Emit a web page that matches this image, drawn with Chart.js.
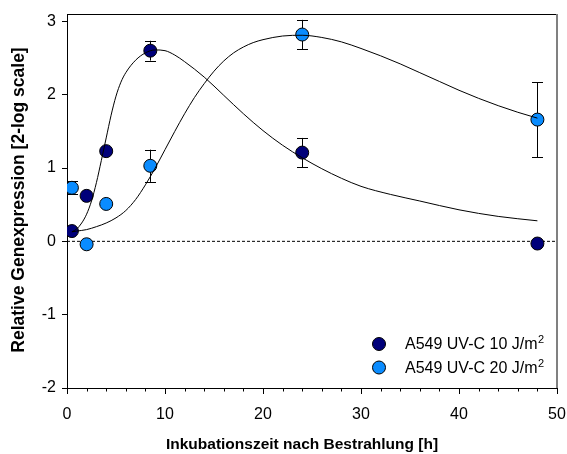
<!DOCTYPE html>
<html>
<head>
<meta charset="utf-8">
<script src="https://cdn.jsdelivr.net/npm/chart.js@4/dist/chart.umd.min.js"></script>
<style>
  html, body { margin: 0; padding: 0; background: #fff; }
  #wrap { width: 567px; height: 454px; position: relative; }
</style>
</head>
<body>
<div id="wrap"><canvas id="grafico"></canvas></div>
<script>
// Messpunkte (Inkubationszeit in h)
const zeitH = [0.5, 2, 4, 8.5, 24, 48];
const uv10 = [0.14, 0.62, 1.23, 2.6, 1.21, -0.03];
const uv10Err = [0, 0, 0, 0.135, 0.2, 0];
const uv20 = [0.73, -0.04, 0.51, 1.03, 2.82, 1.66];
const uv20Err = [0.09, 0, 0, 0.22, 0.2, 0.51];

// Ausgleichskurven
const fit10X = [0.5, 1, 1.5, 2, 2.5, 3, 3.5, 4, 4.5, 5, 5.5, 6, 7, 8, 9, 10, 11, 12, 14, 16, 18, 20, 22, 24, 26, 28, 30, 33, 36, 40, 44, 48];
const fit10Y = [0.13, 0.17, 0.25, 0.37, 0.55, 0.8, 1.1, 1.41, 1.72, 1.98, 2.17, 2.3, 2.47, 2.57, 2.61, 2.6, 2.54, 2.45, 2.24, 1.99, 1.74, 1.51, 1.31, 1.14, 0.99, 0.86, 0.75, 0.64, 0.55, 0.43, 0.34, 0.28];
const fit20X = [0.5, 1, 2, 3, 4, 5, 6, 7, 8, 9, 10, 11, 12, 13, 14, 15, 16, 17, 18, 19, 20, 22, 24, 26, 28, 30, 32, 34, 36, 38, 40, 42, 44, 46, 48];
const fit20Y = [0.13, 0.14, 0.16, 0.2, 0.25, 0.32, 0.42, 0.57, 0.77, 1.0, 1.25, 1.5, 1.74, 1.96, 2.15, 2.32, 2.46, 2.57, 2.65, 2.71, 2.75, 2.8, 2.81, 2.78, 2.72, 2.63, 2.53, 2.42, 2.3, 2.18, 2.06, 1.95, 1.85, 1.76, 1.68];

const xTicks = [0, 10, 20, 30, 40, 50];
const yTicks = [-2, -1, 0, 1, 2, 3];

const serien = ['A549 UV-C 10 J/m', 'A549 UV-C 20 J/m'];
const hochzahl = '2';
const farben = ['#00007a', '#0a8cff'];

const FONT = "'Liberation Sans', Arial, sans-serif";
Chart.defaults.font.family = FONT;
Chart.defaults.color = '#000';

const punkte = (xs, ys) => xs.map((x, i) => ({ x: x, y: ys[i] }));

// 🔹 Fehlerbalken, Rahmen, Nebenstriche, Legende, Achsentitel
const extras = {
    id: 'extras',
    beforeDatasetsDraw(chart) {
        const { ctx, scales: { x, y } } = chart;
        ctx.save();
        ctx.strokeStyle = '#000';
        ctx.lineWidth = 1;
        [[uv10, uv10Err], [uv20, uv20Err]].forEach(([werte, fehler]) => {
            zeitH.forEach((t, i) => {
                if (!fehler[i]) return;
                const px = Math.round(x.getPixelForValue(t)) + 0.5;
                const y1 = y.getPixelForValue(werte[i] + fehler[i]);
                const y2 = y.getPixelForValue(werte[i] - fehler[i]);
                ctx.beginPath();
                ctx.moveTo(px, y1); ctx.lineTo(px, y2);
                ctx.moveTo(px - 5.5, Math.round(y1) + 0.5); ctx.lineTo(px + 5.5, Math.round(y1) + 0.5);
                ctx.moveTo(px - 5.5, Math.round(y2) + 0.5); ctx.lineTo(px + 5.5, Math.round(y2) + 0.5);
                ctx.stroke();
            });
        });
        ctx.restore();
    },
    afterDraw(chart) {
        const { ctx, chartArea: a, scales: { x } } = chart;
        ctx.save();
        // Rahmen oben / rechts
        ctx.strokeStyle = '#000';
        ctx.lineWidth = 1;
        ctx.beginPath();
        ctx.moveTo(a.left, a.top + 0.5); ctx.lineTo(a.right, a.top + 0.5);
        ctx.stroke();
        ctx.strokeStyle = '#808080';
        ctx.lineWidth = 2;
        ctx.beginPath();
        ctx.moveTo(a.right, a.top); ctx.lineTo(a.right, a.bottom);
        ctx.stroke();

        // Nebenstriche x-Achse
        ctx.strokeStyle = '#000';
        ctx.lineWidth = 1;
        ctx.beginPath();
        for (let v = 2; v < 50; v += 2) {
            if (v % 10 === 0) continue;
            const px = Math.round(x.getPixelForValue(v)) + 0.5;
            ctx.moveTo(px, a.bottom); ctx.lineTo(px, a.bottom + 3.5);
        }
        ctx.stroke();

        // Legende
        ctx.textBaseline = 'middle';
        ctx.textAlign = 'left';
        serien.forEach((name, i) => {
            const cy = 344 + i * 23.5;
            ctx.beginPath();
            ctx.arc(379, cy, 6.5, 0, Math.PI * 2);
            ctx.fillStyle = farben[i];
            ctx.fill();
            ctx.stroke();
            ctx.fillStyle = '#000';
            ctx.font = '16px ' + FONT;
            ctx.fillText(name, 405, cy + 1);
            const w = ctx.measureText(name).width;
            ctx.font = '11px ' + FONT;
            ctx.fillText(hochzahl, 405 + w + 0.5, cy - 4);
        });

        // Achsentitel
        ctx.font = 'bold 15.5px ' + FONT;
        ctx.textAlign = 'center';
        ctx.fillText('Inkubationszeit nach Bestrahlung [h]', 302, 445);
        ctx.translate(19, 200);
        ctx.rotate(-Math.PI / 2);
        ctx.font = 'bold 17.5px ' + FONT;
        ctx.fillText('Relative Genexpression [2-log scale]', 0, 0);
        ctx.restore();
    }
};

const ctx = document.getElementById('grafico').getContext('2d');
new Chart(ctx, {
    type: 'scatter',
    data: {
        datasets: [
            {
                label: 'fit10',
                data: punkte(fit10X, fit10Y),
                showLine: true,
                borderColor: '#000',
                borderWidth: 1,
                pointRadius: 0,
                cubicInterpolationMode: 'monotone',
                order: 1
            },
            {
                label: 'fit20',
                data: punkte(fit20X, fit20Y),
                showLine: true,
                borderColor: '#000',
                borderWidth: 1,
                pointRadius: 0,
                cubicInterpolationMode: 'monotone',
                order: 1
            },
            {
                label: serien[0],
                data: punkte(zeitH, uv10),
                backgroundColor: farben[0],
                borderColor: '#000',
                borderWidth: 1,
                pointRadius: 6.5,
                order: 2
            },
            {
                label: serien[1],
                data: punkte(zeitH, uv20),
                backgroundColor: farben[1],
                borderColor: '#000',
                borderWidth: 1,
                pointRadius: 6.5,
                order: 2
            },
            {
                label: 'null',
                data: [{ x: 0, y: 0 }, { x: 50, y: 0 }],
                showLine: true,
                borderColor: '#000',
                borderWidth: 1,
                borderDash: [3, 2],
                pointRadius: 0,
                order: 3
            }
        ]
    },
    options: {
        responsive: true,
        maintainAspectRatio: false,
        animation: false,
        events: [],
        layout: { padding: { top: 14, right: 10, left: 0, bottom: 0 } },
        plugins: {
            legend: { display: false },
            tooltip: { enabled: false }
        },
        scales: {
            x: {
                type: 'linear',
                min: 0,
                max: 50,
                afterFit: s => {
                    s.height = 66;
                    s.paddingLeft = 0;
                    s.paddingRight = 0;
                },
                afterBuildTicks: s => { s.ticks = xTicks.map(v => ({ value: v })); },
                ticks: { font: { size: 16 }, color: '#000', padding: 11, maxRotation: 0, autoSkip: false },
                grid: { drawOnChartArea: false, tickLength: 6, tickColor: '#000' },
                border: { color: '#000', width: 1 }
            },
            y: {
                min: -2,
                max: 3.1,
                afterFit: s => {
                    s.width = 67;
                    s.paddingTop = 0;
                    s.paddingBottom = 0;
                },
                afterBuildTicks: s => { s.ticks = yTicks.map(v => ({ value: v })); },
                ticks: { font: { size: 16 }, color: '#000', padding: 6 },
                grid: { drawOnChartArea: false, tickLength: 5, tickColor: '#000' },
                border: { color: '#000', width: 1 }
            }
        }
    },
    plugins: [extras]
});
</script>
</body>
</html>
